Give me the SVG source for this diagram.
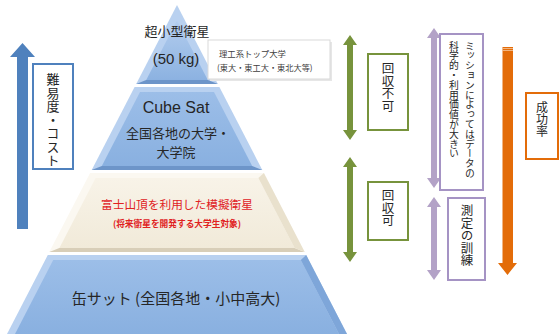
<svg xmlns="http://www.w3.org/2000/svg" width="560" height="334" viewBox="0 0 560 334">
<defs>
<style>
text{font-family:"Noto Sans CJK JP","Liberation Sans",sans-serif;fill:#262626}
.lat{font-family:"Liberation Sans","Noto Sans CJK JP",sans-serif}
.c{text-anchor:middle}
.v{writing-mode:vertical-rl;text-anchor:start}
.box{fill:#fff;stroke-width:2}
.bev-b{fill:#b9d1f0}
.main-b{fill:url(#gb)}
.dark-b{fill:#6d95c9}
.bev-c{fill:#fbf8f1}
.main-c{fill:url(#gc)}
.dark-c{fill:#d8ceb8}
</style>
<linearGradient id="gb" x1="0" y1="0" x2="0" y2="1">
<stop offset="0" stop-color="#9cbee8"/>
<stop offset="1" stop-color="#89b0e0"/>
</linearGradient>
<linearGradient id="gt" x1="0" y1="0" x2="0" y2="1">
<stop offset="0" stop-color="#b3cdee"/>
<stop offset="1" stop-color="#8cb2e1"/>
</linearGradient>
<linearGradient id="gc" x1="0" y1="0" x2="0" y2="1">
<stop offset="0" stop-color="#f8f3e8"/>
<stop offset="1" stop-color="#f1ead9"/>
</linearGradient>
</defs>

<g id="layer-top">
<polygon class="bev-b" points="177,5 217.8,84 136.2,84"/>
<polygon fill="url(#gt)" points="177,20.5 207.8,80 146.2,80"/>
<polygon class="dark-b" points="146.2,80 207.8,80 217.8,84 136.2,84"/>
<text class="c" x="177" y="36" font-size="13">超小型衛星</text>
<text class="c lat" x="176" y="64" font-size="15">(50 kg)</text>
</g>

<g id="callout">
<rect x="210" y="42" width="122" height="39" fill="#e6e6e6"/>
<rect x="208" y="40" width="122" height="39" fill="#fff" stroke="#d9d9d9" stroke-width="1"/>
<text x="219" y="57" font-size="8.4" style="fill:#404040">理工系トップ大学</text>
<text x="217" y="71" font-size="8.2" style="fill:#404040">(東大・東工大・東北大等)</text>
</g>

<g id="layer-cubesat">
<polygon class="bev-b" points="134.6,87 219.4,87 262.3,170 91.7,170"/>
<polygon class="main-b" points="140,92 214,92 252.2,166 101.8,166"/>
<polygon class="dark-b" points="101.8,166 252.2,166 262.3,170 91.7,170"/>
<text class="c lat" x="176" y="113" font-size="16">Cube Sat</text>
<text class="c" x="178" y="137.5" font-size="13">全国各地の大学・</text>
<text class="c" x="176" y="156.5" font-size="13">大学院</text>
</g>

<g id="layer-fuji">
<polygon class="bev-c" points="90.1,173 263.9,173 304.7,252 49.3,252"/>
<polygon class="main-c" points="95.6,178 258.4,178 294.6,248 59.4,248"/>
<polygon class="dark-c" points="59.4,248 294.6,248 304.7,252 49.3,252"/>
<polygon fill="#e9e1cd" points="258.4,178 263.9,173 304.7,252 294.6,248"/>
<text class="c" x="177" y="209" font-size="11.7" style="fill:#e0221f">富士山頂を利用した模擬衛星</text>
<text class="c" x="177" y="227" font-size="8.7" font-weight="bold" style="fill:#e0221f">(将来衛星を開発する大学生対象)</text>
</g>

<g id="layer-can">
<polygon class="bev-b" points="47.8,255 306.2,255 347,334 7,334"/>
<polygon class="main-b" points="53.2,260 300.8,260 339,334 15,334"/>
<polygon fill="#7ea6d9" points="300.8,260 306.2,255 347,334 339,334"/>
<text class="c" x="176" y="304" font-size="15">缶サット (全国各地・小中高大)</text>
</g>

<g id="connectors">
<polygon fill="#4f81bd" points="22.5,43 35,57 28,57 28,229 17,229 17,57 10,57"/>
<polygon fill="#77933c" points="350,35 357,45 353,45 353,130 357,130 350,140 343,130 347,130 347,45 343,45"/>
<polygon fill="#77933c" points="350,157 357,167 353,167 353,252 357,252 350,262 343,252 347,252 347,167 343,167"/>
<polygon fill="#b3a2c7" points="434,28 441,38 437,38 437,178 441,178 434,188 427,178 431,178 431,38 427,38"/>
<polygon fill="#b3a2c7" points="434,197 441,207 437,207 437,270 441,270 434,280 427,270 431,270 431,207 427,207"/>
<polygon fill="#e36c09" points="502.5,47 513,47 513,263 517,263 507.5,275 498,263 502.5,263"/>
<line x1="502.5" y1="48.5" x2="513" y2="48.5" stroke="#f6c8a0" stroke-width="0.8"/>
<line x1="502.5" y1="50.5" x2="513" y2="50.5" stroke="#f6c8a0" stroke-width="0.8"/>
</g>

<g id="label-difficulty">
<rect class="box" x="33" y="64" width="40" height="105" stroke="#4f81bd"/>
<text class="v" x="53" y="73" font-size="13" letter-spacing="0.5">難易度・コスト</text>
</g>

<g id="label-unrecoverable">
<rect class="box" x="368" y="54" width="40" height="76" stroke="#77933c"/>
<text class="v" x="388" y="62" font-size="12.5">回収不可</text>
</g>

<g id="label-recoverable">
<rect class="box" x="368" y="182" width="40" height="58" stroke="#77933c"/>
<text class="v" x="388" y="189" font-size="12.5">回収可</text>
</g>

<g id="label-mission">
<rect class="box" x="440" y="34" width="43" height="156" stroke="#a593c4"/>
<text class="v" x="470" y="41" font-size="9.8">ミッションによってはデータの</text>
<text class="v" x="454" y="41" font-size="9.8">科学的・利用価値が大きい</text>
</g>

<g id="label-training">
<rect class="box" x="448" y="198" width="37" height="82" stroke="#a593c4"/>
<text class="v" x="467" y="204" font-size="12.5">測定の訓練</text>
</g>

<g id="label-success">
<rect class="box" x="526" y="93" width="32" height="66" stroke="#e36c09"/>
<text class="v" x="542" y="101" font-size="12">成功率</text>
</g>
</svg>
